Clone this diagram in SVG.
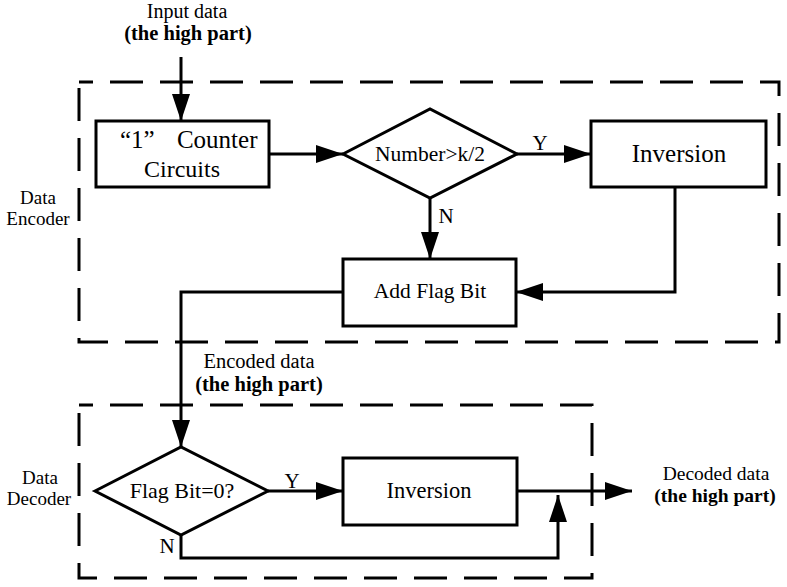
<svg xmlns="http://www.w3.org/2000/svg" width="787" height="587" viewBox="0 0 787 587">
<style>
  text { font-family: "Liberation Serif", "Times New Roman", serif; fill: #000; }
  .box { fill: #fff; stroke: #000; stroke-width: 3; }
  .frame { fill: none; stroke: #000; stroke-width: 3; stroke-dasharray: 33 17; }
  .conn { fill: none; stroke: #000; stroke-width: 3; marker-end: url(#arr); }
  .b { font-weight: bold; }
</style>
<defs>
  <marker id="arr" markerUnits="userSpaceOnUse" markerWidth="27" markerHeight="18" refX="27" refY="9" orient="auto">
    <path d="M0,0 L27,9 L0,18 z" fill="#000"/>
  </marker>
</defs>
<rect width="787" height="587" fill="#fff"/>

<g id="encoder-frame">
  <rect class="frame" x="79" y="82" width="700" height="260" stroke-dashoffset="19"/>
  <text x="38" y="204" font-size="19" text-anchor="middle">Data</text>
  <text x="38" y="225" font-size="19" text-anchor="middle">Encoder</text>
</g>
<g id="decoder-frame">
  <rect class="frame" x="79" y="405" width="513" height="173" stroke-dashoffset="19"/>
  <text x="40" y="484" font-size="19" text-anchor="middle">Data</text>
  <text x="39" y="505" font-size="19" text-anchor="middle">Decoder</text>
</g>

<g id="connectors">
  <path class="conn" d="M181,57 V121"/>
  <path class="conn" d="M269,154 H343"/>
  <path class="conn" d="M517,154 H591"/>
  <path class="conn" d="M430,198 V259"/>
  <path class="conn" d="M675,187 V292 H516"/>
  <path class="conn" d="M343,292 H181 V447"/>
  <path class="conn" d="M268,491 H343"/>
  <path class="conn" d="M517,491 H632"/>
  <path class="conn" d="M181,535 V558 H558 V495"/>
  <text x="540" y="150" font-size="21" text-anchor="middle">Y</text>
  <text x="446" y="223" font-size="21" text-anchor="middle">N</text>
  <text x="292" y="488" font-size="21" text-anchor="middle">Y</text>
  <text x="167" y="553" font-size="21" text-anchor="middle">N</text>
</g>

<g id="input-label">
  <text x="187" y="18" font-size="20" text-anchor="middle">Input data</text>
  <text x="188" y="40" font-size="20.5" text-anchor="middle" class="b">(the high part)</text>
</g>

<g id="counter">
  <rect class="box" x="96" y="121" width="173" height="66"/>
  <text x="120" y="148" font-size="25" word-spacing="16">“1” Counter</text>
  <text x="182" y="177" font-size="24" text-anchor="middle">Circuits</text>
</g>

<g id="decision-number">
  <polygon class="box" points="343,154 430,109 517,154 430,198"/>
  <text x="430" y="161" font-size="21.5" text-anchor="middle">Number&gt;k/2</text>
</g>

<g id="inversion-enc">
  <rect class="box" x="591" y="121" width="175" height="66"/>
  <text x="679" y="162" font-size="25" text-anchor="middle">Inversion</text>
</g>

<g id="add-flag">
  <rect class="box" x="343" y="259" width="173" height="67"/>
  <text x="430" y="298" font-size="21.5" text-anchor="middle">Add Flag Bit</text>
</g>

<g id="encoded-label">
  <text x="259" y="368" font-size="20.5" text-anchor="middle">Encoded data</text>
  <text x="259" y="391" font-size="20.5" text-anchor="middle" class="b">(the high part)</text>
</g>

<g id="decision-flag">
  <polygon class="box" points="95,491 181,447 268,491 181,535"/>
  <text x="182" y="498" font-size="22" text-anchor="middle">Flag Bit=0?</text>
</g>

<g id="inversion-dec">
  <rect class="box" x="343" y="458" width="174" height="67"/>
  <text x="429" y="498" font-size="22.5" text-anchor="middle">Inversion</text>
</g>

<g id="decoded-label">
  <text x="716" y="480" font-size="19.5" text-anchor="middle">Decoded data</text>
  <text x="715" y="502" font-size="19.5" text-anchor="middle" class="b">(the high part)</text>
</g>
</svg>
